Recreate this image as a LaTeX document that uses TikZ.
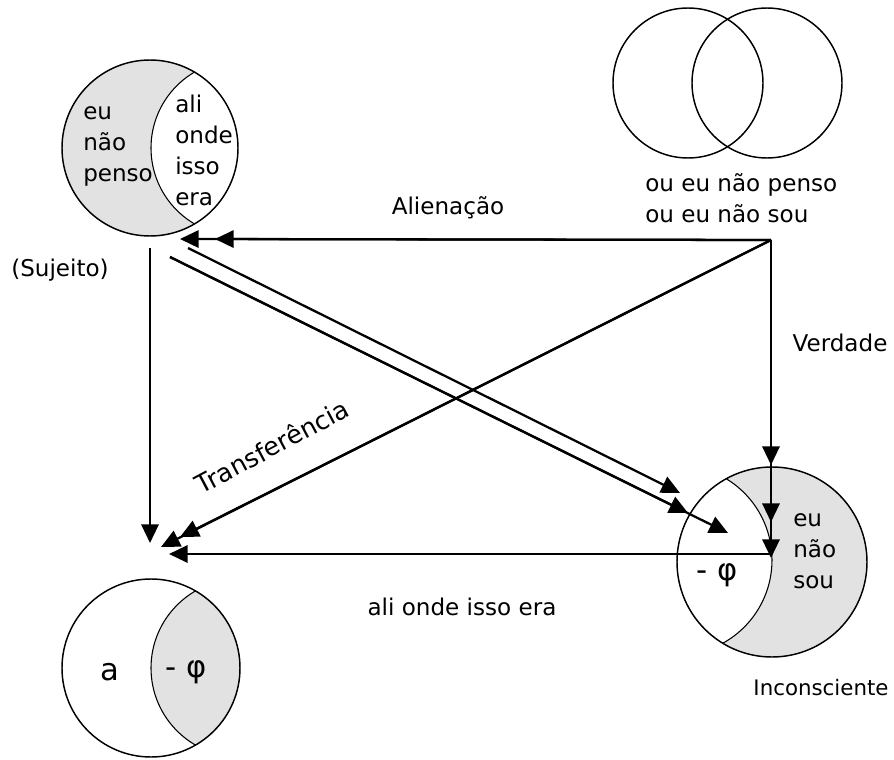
\documentclass[tikz,border=0pt]{standalone}
\usepackage{fontspec}
\setmainfont{DejaVu Sans}
\usetikzlibrary{arrows.meta}
\definecolor{lensgray}{RGB}{226,226,226}

\tikzset{
  arr/.style={line width=1.7pt,-{Triangle[length=14pt,width=13pt]}},
  ring/.style={line width=1.1pt},
  arc/.style={line width=0.8pt},
  lbl/.style={inner sep=0.75pt,font=\fontsize{17.3}{23.25}\selectfont,align=left},
  big/.style={inner sep=0.75pt,font=\fontsize{23}{26}\selectfont},
}

\begin{document}
\begin{tikzpicture}[x=0.75pt,y=0.75pt,yscale=-1,xscale=1]
\useasboundingbox (0,0) rectangle (894,760);

%Shape: Circle (sujeito)
\fill[lensgray] (150,148) circle[radius=88];
\begin{scope}
\clip (150,148) circle[radius=88];
\fill[white] (239,148) circle[radius=88];
\draw[arc] (239,148) circle[radius=88];
\end{scope}
\draw[ring] (150,148) circle[radius=88];

%Shape: Circle (ou ... ou)
\draw[ring] (688,83) circle[radius=75];
\draw[ring] (767,83) circle[radius=75];

%Shape: Circle (inconsciente)
\fill[lensgray] (772,562) circle[radius=95];
\begin{scope}
\clip (772,562) circle[radius=95];
\fill[white] (677,560) circle[radius=95];
\draw[arc] (677,560) circle[radius=95];
\end{scope}
\draw[ring] (772,562) circle[radius=95];

%Shape: Circle (a)
\begin{scope}
\clip (151,668) circle[radius=89];
\fill[lensgray] (240,668) circle[radius=89];
\draw[arc] (240,668) circle[radius=89];
\end{scope}
\draw[ring] (151,668) circle[radius=89];

% Points
\coordinate (origem) at (771,240);
\coordinate (alienA) at (215,239);
\coordinate (alienB) at (180,239);
\coordinate (verdA) at (771,465);
\coordinate (verdB) at (771,522);
\coordinate (verdC) at (771,558);
\coordinate (transfA) at (180,537);
\coordinate (transfB) at (161,547);
\coordinate (sujTop) at (150,248);
\coordinate (sujBot) at (150,543);
\coordinate (diagAstart) at (188,248);
\coordinate (diagAend) at (680,493);
\coordinate (diagBstart) at (170,257);
\coordinate (diagBmid) at (688,513);
\coordinate (diagBend) at (728,533);
\coordinate (eraStart) at (771,554);
\coordinate (eraEnd) at (169,554);

%Straight Lines (Alienacao)
\draw[arr] (origem) -- (alienA);
\draw[arr] (origem) -- (alienB);
%Straight Lines (Verdade)
\draw[arr] (origem) -- (verdA);
\draw[arr] (origem) -- (verdB);
\draw[arr] (origem) -- (verdC);
%Straight Lines (Transferencia)
\draw[arr] (origem) -- (transfA);
\draw[arr] (origem) -- (transfB);
%Straight Lines (Sujeito)
\draw[arr] (sujTop) -- (sujBot);
%Straight Lines (parallel)
\draw[arr] (diagAstart) -- (diagAend);
\draw[arr] (diagBstart) -- (diagBmid);
\draw[arr] (diagBstart) -- (diagBend);
%Straight Lines (ali onde isso era)
\draw[arr] (eraStart) -- (eraEnd);

% Text Node
\node[lbl,anchor=west] (naopenso) at (82,146) {eu\\não\\penso};
% Text Node
\node[lbl,anchor=west] (isso) at (174,150) {ali\\onde\\isso\\era};
% Text Node
\node[lbl,anchor=west] (ouou) at (644,198) {ou eu não penso\\ou eu não sou};
% Text Node
\node[lbl,anchor=west] (naosou) at (792,551) {eu\\não\\sou};
% Text Node
\node[big] (phiInc) at (717,575) {- φ};
% Text Node
\node[big] (letraA) at (110,672) {a};
% Text Node
\node[big] (phiA) at (186,672) {- φ};
% Text Node
\node[lbl] (alien) at (448,208) {Alienação};
% Text Node
\node[lbl] (sujeito) at (60,270) {(Sujeito)};
% Text Node
\node[lbl] (verdade) at (840,343) {Verdade};
% Text Node
\node[lbl,font=\fontsize{19}{23}\selectfont,rotate=28] (transf) at (272,446) {Transferência};
% Text Node
\node[lbl] (aliera) at (462,607) {ali onde isso era};
% Text Node
\node[lbl,font=\fontsize{16}{20}\selectfont] (incons) at (821,688) {Inconsciente};

\end{tikzpicture}
\end{document}
